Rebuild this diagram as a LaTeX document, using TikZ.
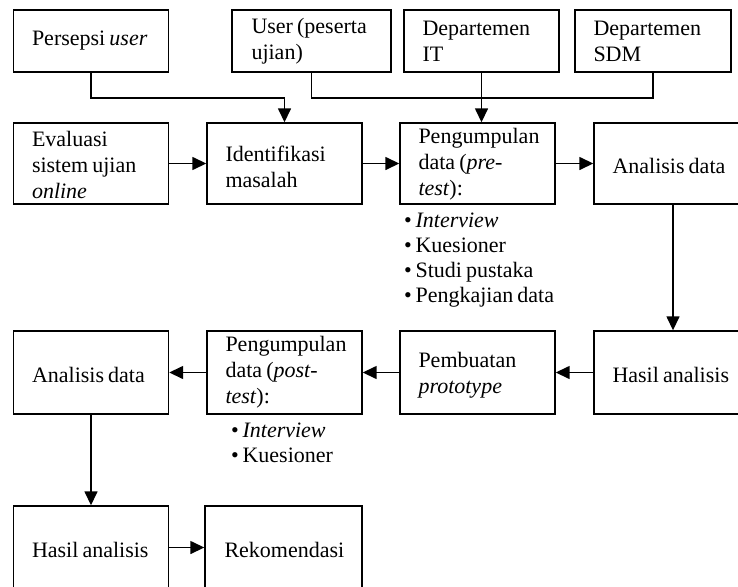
\documentclass[tikz,border=0pt]{standalone}
\usepackage{fontspec}
\setmainfont[WordSpace=0.75]{Liberation Serif}
\usetikzlibrary{arrows.meta}
\begin{document}
\begin{tikzpicture}[x=1pt,y=-1pt,
  box/.style={draw,line width=1.4pt,rectangle,inner sep=0pt,minimum width=155pt},
  toprow/.style={box,minimum height=62pt},
  midrow/.style={box,minimum height=82pt},
  txt/.style={inner sep=0pt,align=left,anchor=west,
    font=\fontsize{22}{26}\selectfont},
  list/.style={inner sep=0pt,align=left,anchor=north west,
    font=\fontsize{22}{25}\selectfont},
  conn/.style={line width=1.5pt},
  arr/.style={conn,-{Triangle[length=14pt,width=13pt]}}]
\useasboundingbox (0,0) rectangle (738,586);
\clip (0,0) rectangle (738,586);
% top row
\node[toprow] (persepsi) at (91,41) {};
\node[toprow,minimum width=159pt] (user) at (311.5,41) {};
\node[toprow] (it) at (481.5,41) {};
\node[toprow,minimum width=156pt] (sdm) at (653,41) {};
% row 1
\node[midrow,minimum height=81pt] (eval) at (91,163.5) {};
\node[midrow,minimum height=81pt] (ident) at (284.5,163.5) {};
\node[midrow,minimum height=81pt] (pre) at (477.5,163.5) {};
\node[midrow,minimum height=81pt,minimum width=158pt] (an1) at (673,163.5) {};
% row 2
\node[midrow,minimum height=83pt] (an2) at (91,372.5) {};
\node[midrow,minimum height=83pt] (post) at (284.5,372.5) {};
\node[midrow,minimum height=83pt] (proto) at (477.5,372.5) {};
\node[midrow,minimum height=83pt,minimum width=158pt] (has1) at (673,372.5) {};
% row 3
\node[midrow,minimum height=83pt] (has2) at (91,547.5) {};
\node[midrow,minimum height=83pt,minimum width=157pt] (rek) at (283.5,547.5) {};
% texts
\node[txt] (persepsi-t) at ([xshift=19pt]persepsi.west) {Persepsi \textit{user}};
\node[txt] (user-t) at ([xshift=20pt]user.west) {User (peserta\\ujian)};
\node[txt] (it-t) at ([xshift=19pt]it.west) {Departemen\\IT};
\node[txt] (sdm-t) at ([xshift=19pt]sdm.west) {Departemen\\SDM};
\node[txt] (eval-t) at ([xshift=19pt,yshift=-1pt]eval.west) {Evaluasi\\sistem ujian\\\textit{online}};
\node[txt] (ident-t) at ([xshift=19pt,yshift=-3pt]ident.west) {Identifikasi\\masalah};
\node[txt] (pre-t) at ([xshift=19pt,yshift=-1pt]pre.west) {Pengumpulan\\data (\textit{pre-}\\\textit{test}):};
\node[txt] (an1-t) at ([xshift=19pt,yshift=-2pt]an1.west) {Analisis data};
\node[txt] (an2-t) at ([xshift=19pt,yshift=-2pt]an2.west) {Analisis data};
\node[txt] (post-t) at ([xshift=19pt]post.west) {Pengumpulan\\data (\textit{post-}\\\textit{test}):};
\node[txt] (proto-t) at ([xshift=19pt,yshift=-3pt]proto.west) {Pembuatan\\\textit{prototype}};
\node[txt] (has1-t) at ([xshift=19pt,yshift=-2pt]has1.west) {Hasil analisis};
\node[txt] (has2-t) at ([xshift=19pt,yshift=-2pt]has2.west) {Hasil analisis};
\node[txt] (rek-t) at ([xshift=20pt,yshift=-2pt]rek.west) {Rekomendasi};
% lists
\node[list] (prelist) at (404,213) {\textbullet\,\textit{Interview}\\\textbullet\,Kuesioner\\\textbullet\,Studi pustaka\\\textbullet\,Pengkajian data};
\node[list] (postlist) at (231,423) {\textbullet\,\textit{Interview}\\\textbullet\,Kuesioner};
% top connectors
\coordinate (j1) at (persepsi.south |- 0,98);
\coordinate (j2) at (ident.north |- 0,98);
\coordinate (j3) at (user.south |- 0,98);
\coordinate (j4) at (sdm.south |- 0,98);
\coordinate (j5) at (it.south |- pre.north);
\draw[conn] (persepsi.south) -- (j1) -- (j2);
\draw[arr] (j2) -- (ident.north);
\draw[conn] (user.south) -- (j3) -- (j4) -- (sdm.south);
\draw[arr] (it.south) -- (j5);
% row arrows
\draw[arr] (eval.east) -- (ident.west);
\draw[arr] (ident.east) -- (pre.west);
\draw[arr] (pre.east) -- (an1.west);
\draw[arr] (an1.south) -- (has1.north);
\draw[arr] (has1.west) -- (proto.east);
\draw[arr] (proto.west) -- (post.east);
\draw[arr] (post.west) -- (an2.east);
\draw[arr] (an2.south) -- (has2.north);
\draw[arr] (has2.east) -- (rek.west);
\end{tikzpicture}
\end{document}
